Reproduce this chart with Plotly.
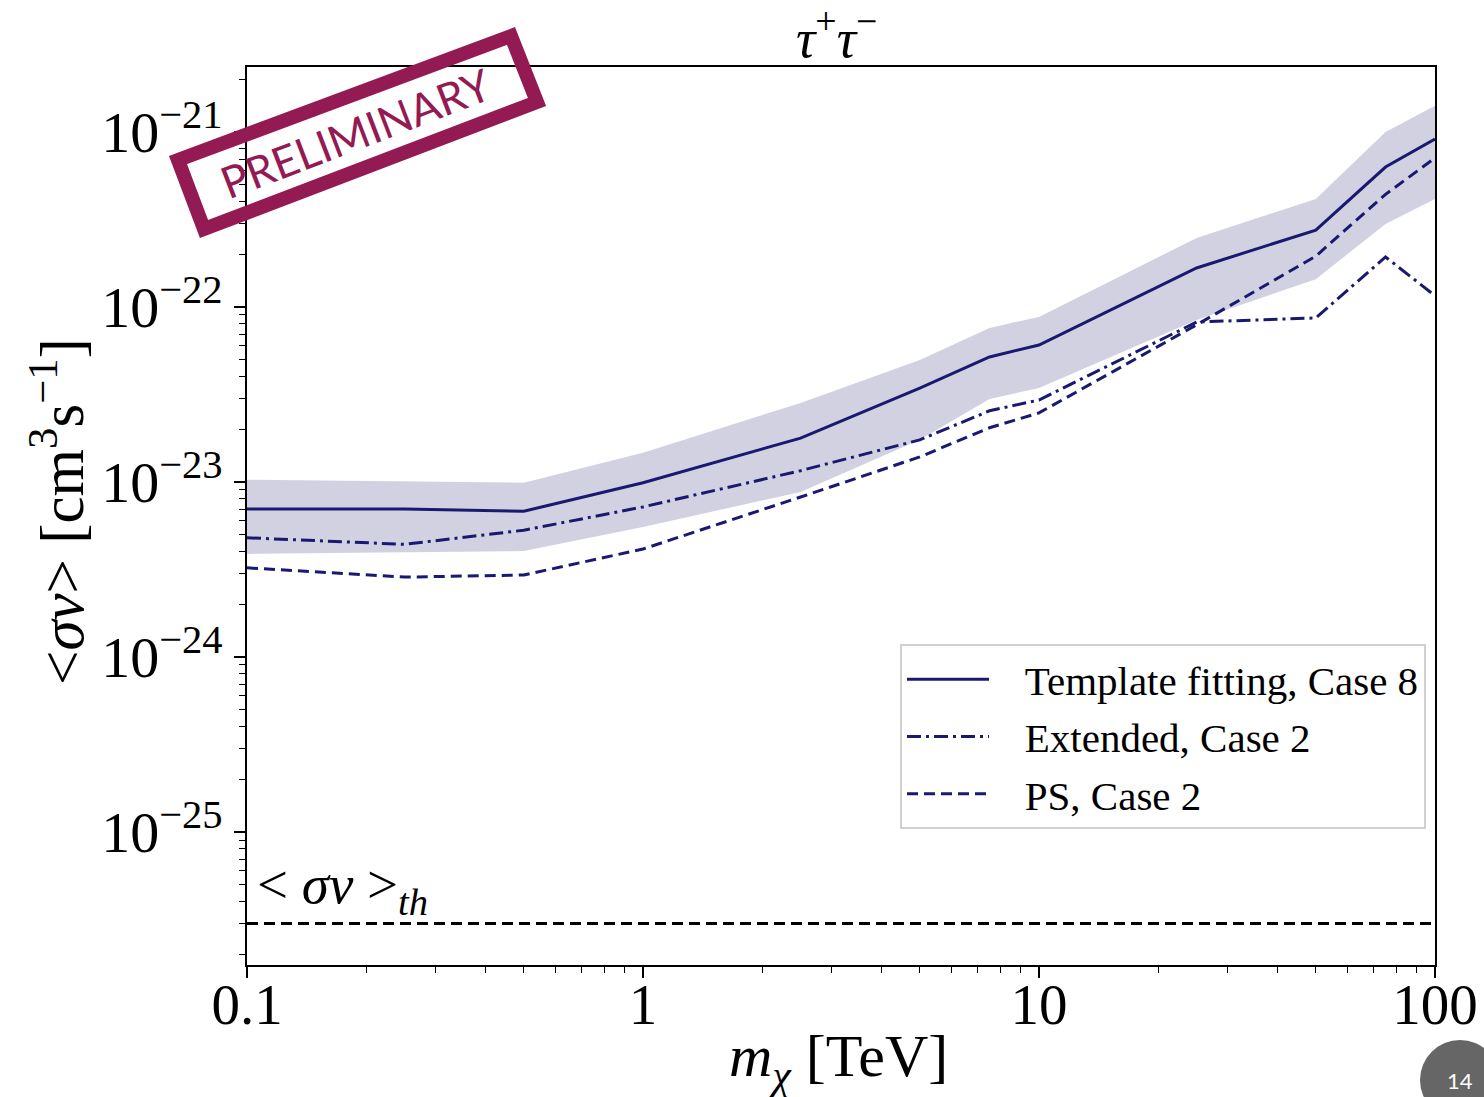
import plotly.graph_objects as go

# ---------------- data ----------------
mass = [0.1, 0.25, 0.5, 1, 2.5, 5, 7.5, 10, 25, 50, 75, 100]
template_case8 = [7.0e-24, 7.0e-24, 6.8e-24, 9.9e-24, 1.78e-23, 3.44e-23, 5.18e-23,
                  6.06e-23, 1.67e-22, 2.75e-22, 6.3e-22, 9.1e-22]
band_upper = [1.03e-23, 1.01e-23, 9.9e-24, 1.47e-23, 2.83e-23, 4.98e-23, 7.58e-23,
              8.77e-23, 2.48e-22, 4.14e-22, 1.0e-21, 1.41e-21]
band_lower = [3.88e-24, 3.98e-24, 4.03e-24, 5.53e-24, 8.77e-24, 1.74e-23, 2.98e-23,
              3.44e-23, 8.43e-23, 1.44e-22, 2.98e-22, 4.14e-22]
extended_case2 = [4.8e-24, 4.4e-24, 5.3e-24, 7.2e-24, 1.16e-23, 1.74e-23, 2.55e-23,
                  2.94e-23, 8.2e-23, 8.65e-23, 1.93e-22, 1.16e-22]
ps_case2 = [3.23e-24, 2.86e-24, 2.94e-24, 4.14e-24, 8.2e-24, 1.39e-23, 2.04e-23,
            2.48e-23, 7.9e-23, 1.95e-22, 4.4e-22, 7.1e-22]
sigma_v_th = 3e-26
x_tick_vals = [0.1, 1, 10, 100]
x_tick_text = ["0.1", "1", "10", "100"]
y_tick_vals = [1e-25, 1e-24, 1e-23, 1e-22, 1e-21]
y_tick_text = ["10<sup>−25</sup>", "10<sup>−24</sup>", "10<sup>−23</sup>",
               "10<sup>−22</sup>", "10<sup>−21</sup>"]
names = ["Template fitting, Case 8", "Extended, Case 2", "PS, Case 2"]

# ---------------- styling ----------------
NAVY = "rgb(25,25,112)"
BAND = "rgba(25,25,112,0.2)"
STAMP = "#931a52"
SERIF = "Liberation Serif"

W, H = 1484, 1097
L, R, T, B = 247, 1435, 67, 965


def px2paper(px, py):
    return (px - L) / (R - L), (B - py) / (B - T)


PAD = "&nbsp;&nbsp;&nbsp;"

fig = go.Figure()

# uncertainty band
fig.add_trace(go.Scatter(x=mass, y=band_upper, mode="lines", line=dict(width=0, color=BAND),
                         showlegend=False, hoverinfo="skip", legendgroup="band"))
fig.add_trace(go.Scatter(x=mass, y=band_lower, mode="lines", line=dict(width=0, color=BAND),
                         fill="tonexty", fillcolor=BAND, showlegend=False, hoverinfo="skip",
                         legendgroup="band"))

fig.add_trace(go.Scatter(x=mass, y=template_case8, mode="lines", name=PAD + names[0],
                         legendgroup="g1", line=dict(color=NAVY, width=3)))
fig.add_trace(go.Scatter(x=mass, y=extended_case2, mode="lines", name=PAD + names[1],
                         legendgroup="g2", line=dict(color=NAVY, width=3, dash="14px,5px,3px,5px")))
fig.add_trace(go.Scatter(x=mass, y=ps_case2, mode="lines", name=PAD + names[2],
                         legendgroup="g3", line=dict(color=NAVY, width=3, dash="11px,6px")))

# threshold line
fig.add_trace(go.Scatter(x=[0.1, 100], y=[sigma_v_th, sigma_v_th], mode="lines",
                         line=dict(color="black", width=3, dash="11px,6px"),
                         showlegend=False, hoverinfo="skip", legendgroup="th"))

fig.update_layout(
    width=W, height=H,
    margin=dict(l=L, r=W - R, t=T, b=H - B, autoexpand=False),
    paper_bgcolor="white", plot_bgcolor="white",
    font=dict(family=SERIF, color="black"),
    showlegend=True,
    legend=dict(x=(1426 - L) / (R - L), xanchor="right", y=(B - 644) / (B - T), yanchor="top",
                bgcolor="white", bordercolor="#d0d0d0", borderwidth=2,
                font=dict(family=SERIF, size=41, color="black"),
                itemwidth=82, traceorder="grouped", tracegroupgap=1),
)

fig.update_xaxes(type="log", range=[-1, 2], showgrid=False, zeroline=False,
                 showline=True, linecolor="black", linewidth=1.5, mirror=True,
                 ticks="outside", ticklen=11, tickwidth=1.5, tickcolor="black",
                 tickvals=x_tick_vals, ticktext=x_tick_text, ticklabelstandoff=-22,
                 automargin=False,
                 tickfont=dict(family=SERIF, size=57, color="black"),
                 minor=dict(ticks="outside", ticklen=6, tickwidth=1, tickcolor="black",
                            dtick="D1", showgrid=False))
fig.update_yaxes(type="log", range=[-25.76, -20.629], showgrid=False, zeroline=False,
                 showline=True, linecolor="black", linewidth=1.5, mirror=True,
                 ticks="outside", ticklen=11, tickwidth=1.5, tickcolor="black",
                 tickvals=y_tick_vals, ticktext=y_tick_text, automargin=False,
                 tickfont=dict(family=SERIF, size=58, color="black"),
                 minor=dict(ticks="outside", ticklen=6, tickwidth=1, tickcolor="black",
                            dtick="D1", showgrid=False))

annotations = []
# title
annotations.append(dict(x=(836 - L) / (R - L), y=(B - 35) / (B - T), xref="paper", yref="paper",
                        text="<i>τ</i><sup>+</sup><i>τ</i><sup>−</sup>", showarrow=False,
                        font=dict(family=SERIF, size=54), xanchor="center", yanchor="middle"))
# x-axis title
annotations.append(dict(x=(838 - L) / (R - L), y=(B - 1060) / (B - T), xref="paper", yref="paper",
                        text="<i>m<sub>χ</sub></i> [TeV]", showarrow=False,
                        font=dict(family=SERIF, size=60), xanchor="center", yanchor="middle"))
# y-axis title
annotations.append(dict(x=(58 - L) / (R - L), y=(B - 512) / (B - T), xref="paper", yref="paper",
                        text="<<i>σv</i>> [cm<sup>3</sup>s<sup>−1</sup>]", showarrow=False,
                        textangle=-90,
                        font=dict(family=SERIF, size=61), xanchor="center", yanchor="middle"))
# threshold label
annotations.append(dict(x=(255 - L) / (R - L), y=(B - 888) / (B - T), xref="paper", yref="paper",
                        text="< <i>σv</i> ><sub><i>th</i></sub>", showarrow=False,
                        font=dict(family=SERIF, size=55), xanchor="left", yanchor="middle"))
# PRELIMINARY stamp text
sx, sy = px2paper(355, 133)
annotations.append(dict(x=sx, y=sy, xref="paper", yref="paper", text="PRELIMINARY",
                        showarrow=False, textangle=-21,
                        font=dict(family="Lato", size=44, color=STAMP),
                        xanchor="center", yanchor="middle"))
# page number
px_, py_ = px2paper(1460, 1080)
annotations.append(dict(x=px_, y=py_, xref="paper", yref="paper", text="14",
                        showarrow=False, font=dict(family="Lato", size=22, color="white"),
                        xanchor="center", yanchor="middle"))
fig.update_layout(annotations=annotations)

# stamp rectangle (rotated) and page-number circle
corners = [(178, 160), (511, 36), (537, 102), (204, 229)]
pts = [px2paper(x, y) for x, y in corners]
path = "M " + " L ".join(f"{x:.5f},{y:.5f}" for x, y in pts) + " Z"
shapes = [
    dict(type="path", xref="paper", yref="paper", path=path,
         line=dict(color=STAMP, width=14), fillcolor="rgba(0,0,0,0)", layer="above"),
]
c0 = px2paper(1420, 1040)
c1 = px2paper(1500, 1120)
shapes.insert(0, dict(type="circle", xref="paper", yref="paper", x0=c0[0], y0=c1[1], x1=c1[0], y1=c0[1],
                      fillcolor="#666666", line=dict(width=0), layer="below"))
fig.update_layout(shapes=shapes)

fig.write_html("out.html")
